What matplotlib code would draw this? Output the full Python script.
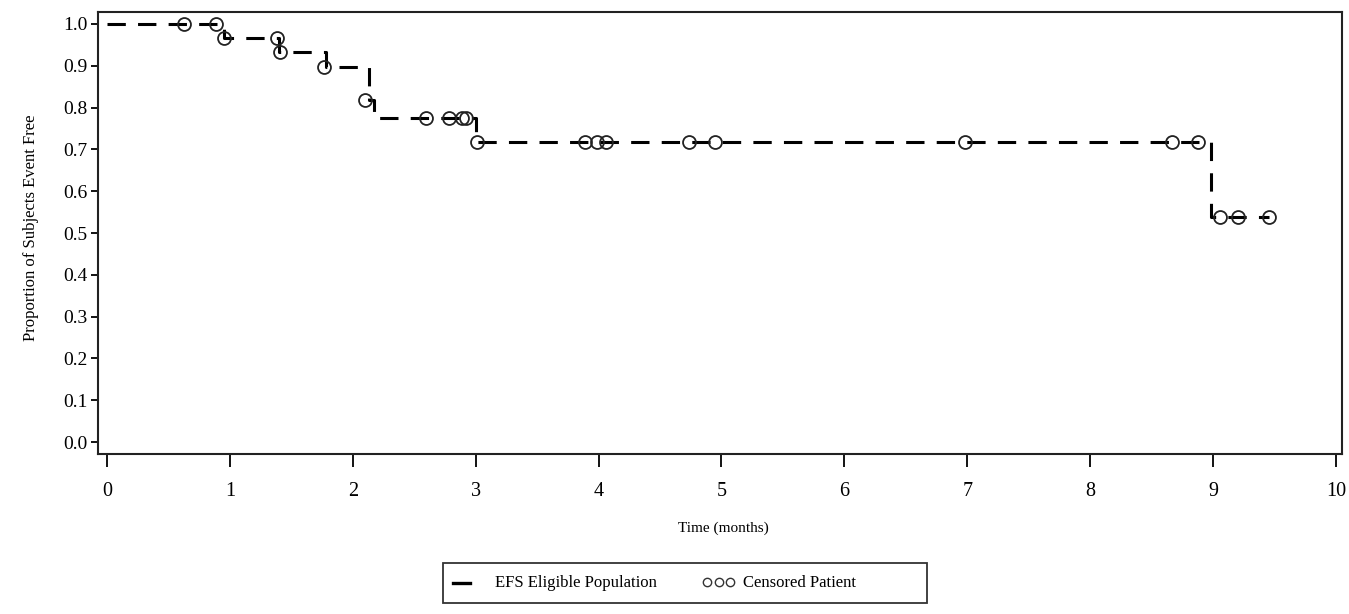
import matplotlib
matplotlib.use("Agg")
import matplotlib.pyplot as plt
from matplotlib.lines import Line2D
from matplotlib.patches import Rectangle

# Kaplan-Meier step data (event times and survival after each)
step_times = [0.0, 0.95, 1.40, 1.78, 2.13, 2.17, 3.00, 8.98, 9.46]
step_surv = [1.0, 0.967, 0.933, 0.898, 0.818, 0.774, 0.718, 0.538, 0.538]

# Censored patients
cens_times = [0.63, 0.89, 0.95, 1.38, 1.41, 1.77, 2.10, 2.60, 2.78, 2.89, 2.92,
              3.01, 3.89, 3.99, 4.06, 4.74, 4.95, 6.98, 8.67, 8.88, 9.06, 9.20, 9.46]
cens_surv = [1.0, 1.0, 0.967, 0.967, 0.933, 0.898, 0.818, 0.774, 0.774, 0.774, 0.774,
             0.718, 0.718, 0.718, 0.718, 0.718, 0.718, 0.718, 0.718, 0.718, 0.538, 0.538, 0.538]

x_ticks = list(range(0, 11))
y_ticks = [i / 10 for i in range(0, 11)]
legend_labels = ['EFS Eligible Population', 'Censored Patient']

plt.rcParams['font.family'] = ['Liberation Serif', 'DejaVu Serif']

W, H = 1349, 614
fig = plt.figure(figsize=(W / 100, H / 100), dpi=100)
ax = fig.add_axes([98 / W, 1 - 454 / H, 1244 / W, 442 / H])

ax.step(step_times, step_surv, where='post', color='black', lw=2.2,
        linestyle=(0, (6.0, 4.0)))
ax.plot(cens_times, cens_surv, linestyle='none', marker='o', markersize=9.3,
        markerfacecolor='none', markeredgecolor='#222222', markeredgewidth=1.3)

ax.set_xlim(-0.073, 10.05)
ax.set_ylim(-0.0287, 1.0287)
ax.set_xticks(x_ticks)
ax.set_xticklabels([str(v) for v in x_ticks])
ax.set_yticks(y_ticks)
ax.set_yticklabels([f"{v:.1f}" for v in y_ticks])
ax.tick_params(axis='x', direction='out', length=9.5, width=1.3, labelsize=14.5, pad=11)
ax.tick_params(axis='y', direction='out', length=5, width=1.3, labelsize=14, pad=2.5)
for s in ax.spines.values():
    s.set_linewidth(1.5)
    s.set_color('#222222')

ax.set_xlabel('Time (months)', fontsize=11)
ax.xaxis.set_label_coords(0.5 + (723 - 720) / 1244, -(522 - 454) / 442)
ax.xaxis.label.set_va('top')
ax.set_ylabel('Proportion of Subjects Event Free', fontsize=12)
ax.yaxis.set_label_coords((31 - 98) / 1244, (454 - 228) / 442)
ax.yaxis.label.set_va('center')

# Legend drawn in figure pixel layout
def fx(px):
    return px / W

def fy(py):
    return 1 - py / H

fig.add_artist(Rectangle((fx(443), fy(603)), 484 / W, 40 / H, transform=fig.transFigure,
                         fill=False, edgecolor='#333333', lw=1.3))
fig.add_artist(Line2D([fx(453), fx(470)], [fy(583), fy(583)], transform=fig.transFigure,
                      color='black', lw=2.4))
fig.text(fx(495), fy(583), legend_labels[0], fontsize=12, va='center', ha='left')
fig.add_artist(Line2D([fx(707), fx(718.5), fx(730)], [fy(582)] * 3, transform=fig.transFigure,
                      linestyle='none', marker='o', markersize=6,
                      markerfacecolor='none', markeredgecolor='#333333', markeredgewidth=1.0))
fig.text(fx(743), fy(583), legend_labels[1], fontsize=12, va='center', ha='left')

fig.savefig('out.png', dpi=100, facecolor='white')
